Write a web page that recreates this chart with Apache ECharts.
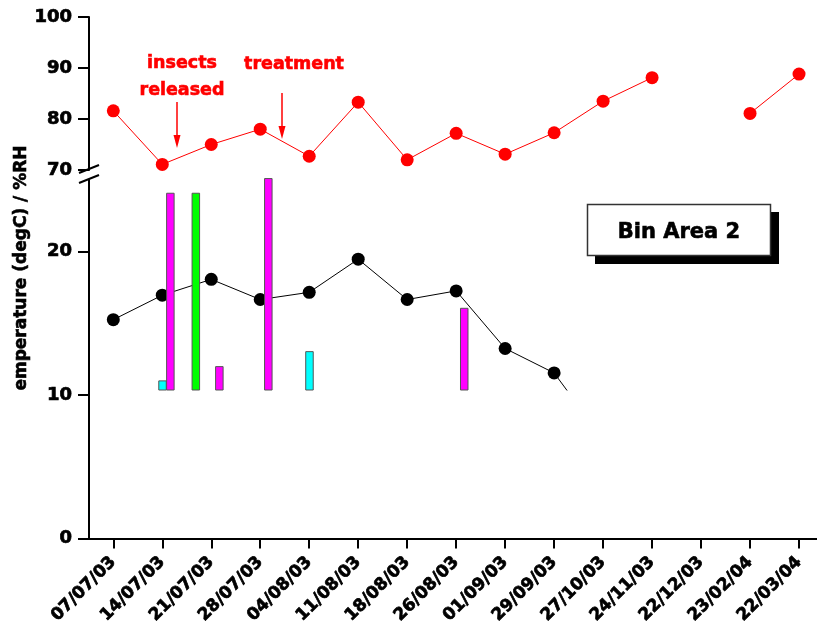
<!DOCTYPE html>
<html>
<head>
<meta charset="utf-8">
<script src="https://cdn.jsdelivr.net/npm/echarts@6/dist/echarts.min.js"></script>
<style>
html,body{margin:0;padding:0;background:#fff;}
#chart{width:817px;height:627px;}
</style>
</head>
<body>
<div id="chart"></div>
<script>
// ---- data ----
const categories = ['07/07/03','14/07/03','21/07/03','28/07/03','04/08/03','11/08/03','18/08/03','26/08/03','01/09/03','29/09/03','27/10/03','24/11/03','22/12/03','23/02/04','22/03/04'];
const rhValues = [81.6, 71.1, 75.0, 78.0, 72.7, 83.3, 72.0, 77.2, 73.1, 77.3, 83.5, 88.1, null, 81.1, 88.8];
const tempValues = [15.3, 17.0, 18.1, 16.7, 17.2, 19.5, 16.7, 17.3, 13.3, 11.6, 7.0];
const cyanX = [1.0, 4.0];
const cyanValues = [11.05, 13.08];
const magentaX = [1.16, 2.16, 3.16, 7.16];
const magentaValues = [24.08, 12.04, 25.1, 16.09];
const greenX = [1.68];
const greenValues = [24.08];
const upperTicks = [70, 80, 90, 100];
const lowerTicks = [0, 10, 20];
const lowerMinorTicks = [5, 15];

// ---- layout ----
const FONT = 'DejaVu Sans';
const LEFT = 89;
const X0 = 113.3, XSTEP = 48.98, RIGHT_EDGE = 817;
const XMIN = -(X0 - LEFT) / XSTEP;
const XMAX = 14 + (RIGHT_EDGE - X0 - 14 * XSTEP) / XSTEP;
const UP_TOP = 17, UP_BOTTOM = 170;
const LOW_TOP = 180, LOW_BOTTOM = 540, LOW_MAX = 25;
const PX_PER = (LOW_BOTTOM - LOW_TOP) / LOW_MAX;
const CLIP_TOP = 172, CLIP_BOTTOM = 390;
const CLIP_MAX = (LOW_BOTTOM - CLIP_TOP) / PX_PER;
const CLIP_MIN = (LOW_BOTTOM - CLIP_BOTTOM) / PX_PER;

const chart = echarts.init(document.getElementById('chart'), null, {renderer: 'canvas'});

function barSeries(xs, vals, color) {
  return {
    type: 'custom', xAxisIndex: 2, yAxisIndex: 3, z: 5,
    data: xs.map((x, i) => [x, vals[i]]),
    renderItem: function (params, api) {
      const top = api.coord([api.value(0), api.value(1)]);
      const base = api.coord([api.value(0), CLIP_MIN]);
      return {
        type: 'rect',
        shape: {x: top[0] - 3.5, y: top[1], width: 7.5, height: base[1] - top[1]},
        style: {fill: color, stroke: '#555', lineWidth: 1}
      };
    }
  };
}

const axisLineStyle = {color: '#000', width: 2};
const hiddenX = (gi) => ({type: 'value', gridIndex: gi, min: XMIN, max: XMAX, show: false});
const heavy = {fontFamily: FONT, fontWeight: 'bold', color: '#000', textBorderColor: '#000', textBorderWidth: 0.7};

const option = {
  animation: false,
  backgroundColor: '#fff',
  grid: [
    {left: LEFT, top: UP_TOP, width: RIGHT_EDGE - LEFT, height: UP_BOTTOM - UP_TOP},
    {left: LEFT, top: LOW_TOP, width: RIGHT_EDGE - LEFT, height: LOW_BOTTOM - LOW_TOP},
    {left: LEFT, top: CLIP_TOP, width: RIGHT_EDGE - LEFT, height: CLIP_BOTTOM - CLIP_TOP}
  ],
  xAxis: [
    hiddenX(0),
    {
      type: 'value', gridIndex: 1, min: XMIN, max: XMAX,
      splitLine: {show: false},
      axisLine: {show: true, onZero: false, lineStyle: axisLineStyle},
      axisTick: {show: true, length: 10, lineStyle: {color: '#000', width: 2}, customValues: categories.map((c, i) => i)},
      axisLabel: Object.assign({
        customValues: categories.map((c, i) => i),
        formatter: v => categories[Math.round(v)],
        rotate: 45, margin: 21, fontSize: 17
      }, heavy)
    },
    hiddenX(2)
  ],
  yAxis: [
    {
      type: 'value', gridIndex: 0, min: 70, max: 100, interval: 10,
      splitLine: {show: false},
      axisLine: {show: true, onZero: false, lineStyle: axisLineStyle},
      axisTick: {show: true, length: 11, lineStyle: {color: '#000', width: 2}, customValues: upperTicks},
      axisLabel: Object.assign({customValues: upperTicks, margin: 17, fontSize: 18}, heavy)
    },
    {
      type: 'value', gridIndex: 1, min: 0, max: LOW_MAX,
      splitLine: {show: false},
      axisLine: {show: true, onZero: false, lineStyle: axisLineStyle},
      axisTick: {show: true, length: 11, lineStyle: {color: '#000', width: 2}, customValues: lowerTicks},
      axisLabel: Object.assign({customValues: lowerTicks, margin: 17, fontSize: 18}, heavy)
    },
    {
      type: 'value', gridIndex: 1, min: 0, max: LOW_MAX,
      splitLine: {show: false},
      axisLine: {show: false, onZero: false},
      axisTick: {show: true, length: 7, lineStyle: {color: '#000', width: 2}, customValues: lowerMinorTicks},
      axisLabel: {show: false}
    },
    {type: 'value', gridIndex: 2, min: CLIP_MIN, max: CLIP_MAX, show: false}
  ],
  series: [
    {
      type: 'line', xAxisIndex: 0, yAxisIndex: 0, z: 4,
      data: rhValues.map((v, i) => [i, v == null ? '-' : v]),
      symbol: 'circle', symbolSize: 13,
      itemStyle: {color: '#ff0000'},
      lineStyle: {color: '#ff0000', width: 1},
      connectNulls: false
    },
    {
      type: 'line', xAxisIndex: 2, yAxisIndex: 3, z: 3, clip: true,
      data: tempValues.map((v, i) => [i, v]),
      symbol: 'circle', symbolSize: 13,
      itemStyle: {color: '#000'},
      lineStyle: {color: '#000', width: 1}
    },
    barSeries(cyanX, cyanValues, '#00ffff'),
    barSeries(magentaX, magentaValues, '#ff00ff'),
    barSeries(greenX, greenValues, '#00ff00')
  ],
  graphic: [
    // axis break marks
    {type: 'line', shape: {x1: 79, y1: 173, x2: 99, y2: 165}, style: {stroke: '#000', lineWidth: 2}, z: 10},
    {type: 'line', shape: {x1: 79, y1: 183, x2: 99, y2: 175}, style: {stroke: '#000', lineWidth: 2}, z: 10},
    // y axis title
    {type: 'text', x: 22, y: 268, rotation: Math.PI / 2,
      style: {text: 'emperature (degC) / %RH', font: 'bold 17px "DejaVu Sans"', fill: '#000', stroke: '#000', lineWidth: 0.6, align: 'center', verticalAlign: 'middle'}},
    // annotations
    {type: 'text', x: 182, y: 63, style: {text: 'insects', font: 'bold 17.5px "DejaVu Sans"', fill: '#ff0000', stroke: '#ff0000', lineWidth: 0.6, align: 'center', verticalAlign: 'middle'}},
    {type: 'text', x: 182, y: 90, style: {text: 'released', font: 'bold 17.5px "DejaVu Sans"', fill: '#ff0000', stroke: '#ff0000', lineWidth: 0.6, align: 'center', verticalAlign: 'middle'}},
    {type: 'text', x: 294, y: 64, style: {text: 'treatment', font: 'bold 17.5px "DejaVu Sans"', fill: '#ff0000', stroke: '#ff0000', lineWidth: 0.6, align: 'center', verticalAlign: 'middle'}},
    {type: 'line', shape: {x1: 177, y1: 102, x2: 177, y2: 138}, style: {stroke: '#ff0000', lineWidth: 1.5}},
    {type: 'polygon', shape: {points: [[173.5, 135], [180.5, 135], [177, 148]]}, style: {fill: '#ff0000'}},
    {type: 'line', shape: {x1: 282, y1: 93, x2: 282, y2: 129}, style: {stroke: '#ff0000', lineWidth: 1.5}},
    {type: 'polygon', shape: {points: [[278.5, 126], [285.5, 126], [282, 139]]}, style: {fill: '#ff0000'}},
    // Bin Area box
    {type: 'rect', shape: {x: 595, y: 212, width: 184, height: 52}, style: {fill: '#000'}, z: 20},
    {type: 'rect', shape: {x: 587.5, y: 204.5, width: 183, height: 51}, style: {fill: '#fff', stroke: '#333', lineWidth: 1.5}, z: 21},
    {type: 'text', x: 679, y: 233, z: 22, style: {text: 'Bin Area 2', font: 'bold 21px "DejaVu Sans"', fill: '#000', stroke: '#000', lineWidth: 0.6, align: 'center', verticalAlign: 'middle'}}
  ]
};
chart.setOption(option);
</script>
</body>
</html>
